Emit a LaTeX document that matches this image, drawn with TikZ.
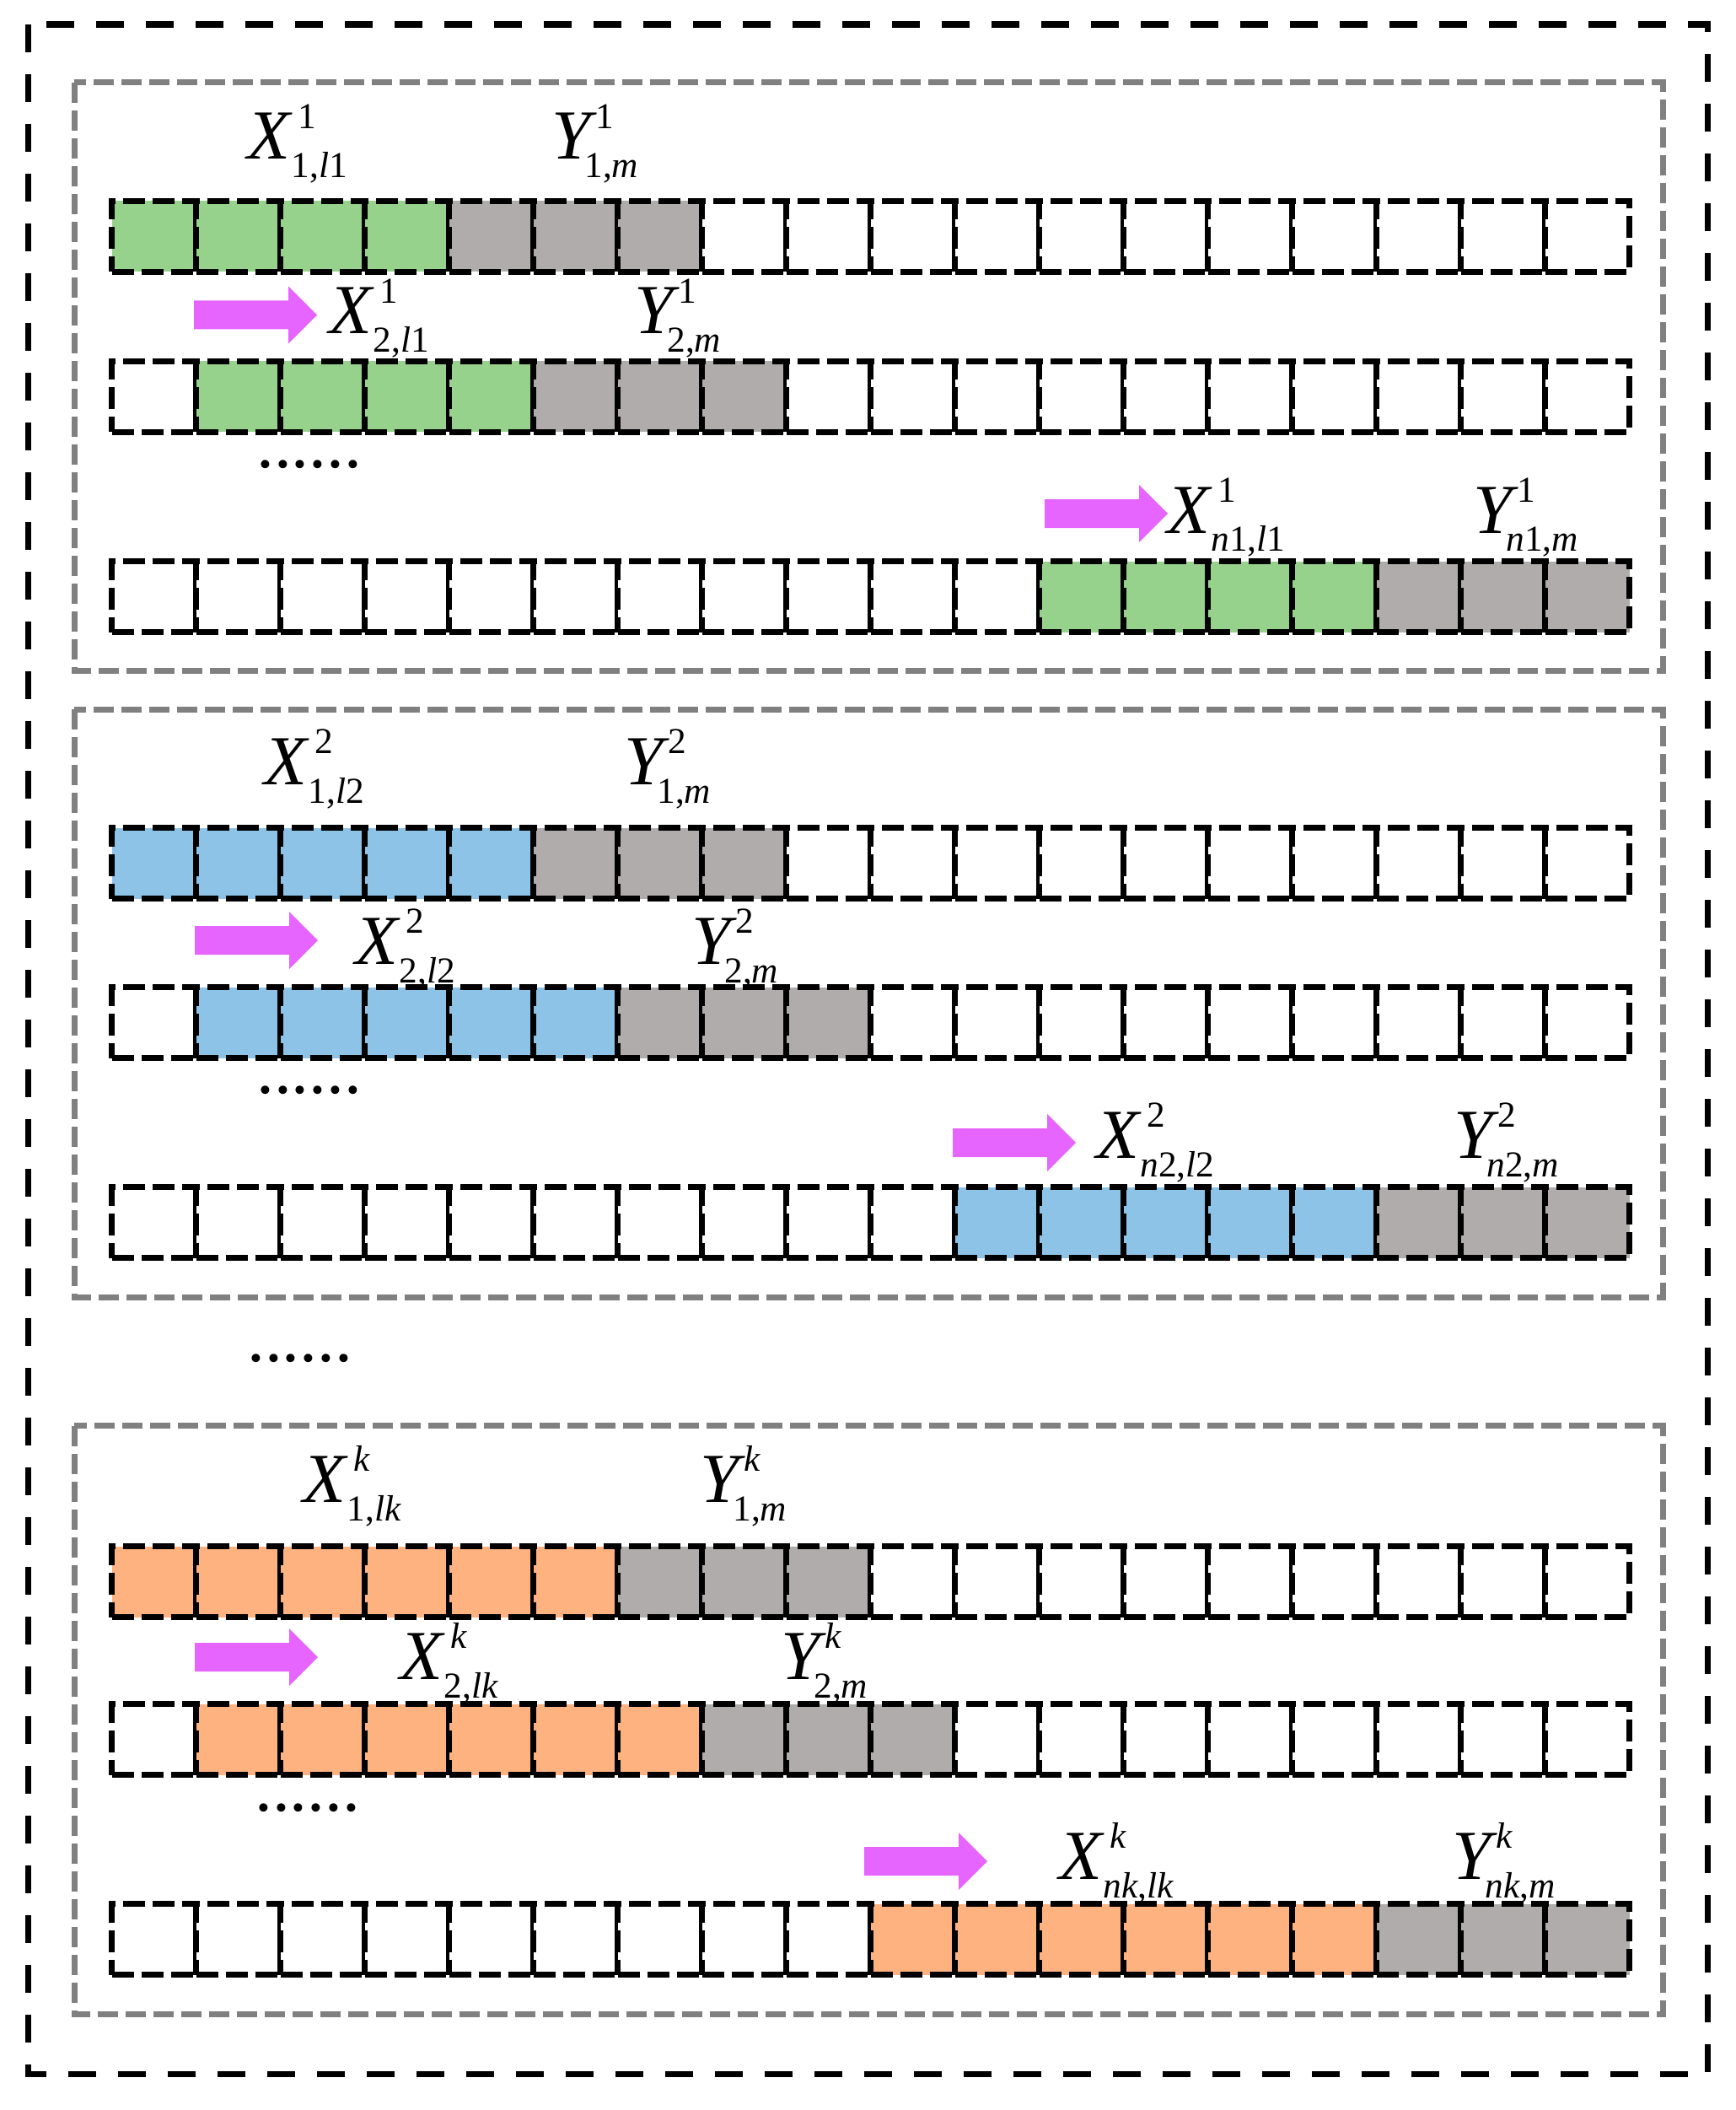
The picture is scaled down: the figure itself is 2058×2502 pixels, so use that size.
\documentclass[tikz,border=0pt]{standalone}
\usepackage{fontspec}
\setmainfont{Liberation Serif}
\definecolor{cgreen}{RGB}{150,210,140}
\definecolor{cgray}{RGB}{176,172,172}
\definecolor{cblue}{RGB}{141,195,230}
\definecolor{corange}{RGB}{253,178,128}
\definecolor{cmag}{RGB}{230,100,255}
\definecolor{cpanel}{RGB}{128,128,128}
\newcommand{\scr}{\fontsize{13}{13}\selectfont}
\newcommand{\Xlab}[2]{\textit{X}\rlap{\kern2pt\raisebox{11pt}{\scr #1}}\kern-0.5pt\raisebox{-6.6pt}{\scr #2}}
\newcommand{\Ylab}[2]{\textit{Y}\rlap{\kern-0.5pt\raisebox{11pt}{\scr #1}}\kern-4.5pt\raisebox{-6.6pt}{\scr #2}}
\tikzset{
  cell/.style={draw=black, line width=2.3pt, dash pattern=on 7.8pt off 2.7pt,
    minimum width=30pt, minimum height=25.2pt, inner sep=0pt, outer sep=0pt},
  panel/.style={draw=cpanel, line width=2.1pt, dash pattern=on 7.2pt off 2.7pt},
  outerbox/.style={draw=black, line width=2.25pt, dash pattern=on 9.9pt off 7.8pt},
  lab/.style={anchor=base west, inner sep=0pt, font=\fontsize{25}{25}\selectfont},
  blk/.style={fill=cmag},
}
% #1 name, #2 top y, #3 first coloured cell, #4 number coloured, #5 colour
\newcommand{\cellrow}[5]{%
  \foreach \i in {0,...,17}{%
    \pgfmathtruncatemacro{\ca}{#3}%
    \pgfmathtruncatemacro{\cb}{#3+#4}%
    \pgfmathtruncatemacro{\cc}{#3+#4+3}%
    \ifnum\i<\ca \def\fc{white}\else\ifnum\i<\cb \def\fc{#5}\else\ifnum\i<\cc \def\fc{cgray}\else\def\fc{white}\fi\fi\fi
    \node[cell, fill=\fc] (#1-\i) at ({182.5+100*\i}, {#2+40.5}) {};
  }%
}
% #1 left x, #2 centre y
\newcommand{\blockarrow}[2]{%
  \fill[blk] (#1,{#2-17}) -- ({#1+112},{#2-17}) -- ({#1+112},{#2-34}) -- ({#1+146},#2)
    -- ({#1+112},{#2+34}) -- ({#1+112},{#2+17}) -- (#1,{#2+17}) -- cycle;
}
\begin{document}
\begin{tikzpicture}[x=0.3pt,y=-0.3pt]
\useasboundingbox (0,0) rectangle (2058,2502);
\draw[outerbox] (33.5,29) rectangle (2025.5,2459.5);
\draw[panel] (88,98) rectangle (1972,795);
\draw[panel] (88,841) rectangle (1972,1538);
\draw[panel] (88,1690.5) rectangle (1972,2388);

% panel 1
\cellrow{p1r1}{240}{0}{4}{cgreen}
\cellrow{p1r2}{430}{1}{4}{cgreen}
\cellrow{p1r3}{667}{11}{4}{cgreen}
\node[lab] (p1x1) at (293,189) {\Xlab{1}{1,\textit{l}1}};
\node[lab] (p1y1) at (654,189) {\Ylab{1}{1,\textit{m}}};
\node[lab] (p1x2) at (390,396) {\Xlab{1}{2,\textit{l}1}};
\node[lab] (p1y2) at (752,396) {\Ylab{1}{2,\textit{m}}};
\node[lab] (p1x3) at (1384,632) {\Xlab{1}{\textit{n}1,\textit{l}1}};
\node[lab] (p1y3) at (1747,632) {\Ylab{1}{\textit{n}1,\textit{m}}};
\blockarrow{230}{373.5}
\blockarrow{1239}{609}
\node[lab] (p1dots) at (303.5,554.5) {......};

% panel 2
\cellrow{p2r1}{983}{0}{5}{cblue}
\cellrow{p2r2}{1172}{1}{5}{cblue}
\cellrow{p2r3}{1409}{10}{5}{cblue}
\node[lab] (p2x1) at (313,930) {\Xlab{2}{1,\textit{l}2}};
\node[lab] (p2y1) at (740,930) {\Ylab{2}{1,\textit{m}}};
\node[lab] (p2x2) at (421,1143) {\Xlab{2}{2,\textit{l}2}};
\node[lab] (p2y2) at (820,1143) {\Ylab{2}{2,\textit{m}}};
\node[lab] (p2x3) at (1300,1373) {\Xlab{2}{\textit{n}2,\textit{l}2}};
\node[lab] (p2y3) at (1724,1373) {\Ylab{2}{\textit{n}2,\textit{m}}};
\blockarrow{231}{1115}
\blockarrow{1130}{1355}
\node[lab] (p2dots) at (303.5,1296.5) {......};

\node[lab] (middots) at (292.5,1614.5) {......};

% panel 3
\cellrow{p3r1}{1835}{0}{6}{corange}
\cellrow{p3r2}{2022}{1}{6}{corange}
\cellrow{p3r3}{2259}{9}{6}{corange}
\node[lab] (p3x1) at (359,1781) {\Xlab{\textit{k}}{1,\textit{lk}}};
\node[lab] (p3y1) at (830,1781) {\Ylab{\textit{k}}{1,\textit{m}}};
\node[lab] (p3x2) at (474,1991) {\Xlab{\textit{k}}{2,\textit{lk}}};
\node[lab] (p3y2) at (926,1991) {\Ylab{\textit{k}}{2,\textit{m}}};
\node[lab] (p3x3) at (1256,2228) {\Xlab{\textit{k}}{\textit{nk},\textit{lk}}};
\node[lab] (p3y3) at (1722,2228) {\Ylab{\textit{k}}{\textit{nk},\textit{m}}};
\blockarrow{231}{1965}
\blockarrow{1025}{2207}
\node[lab] (p3dots) at (301.5,2147.5) {......};
\end{tikzpicture}
\end{document}
